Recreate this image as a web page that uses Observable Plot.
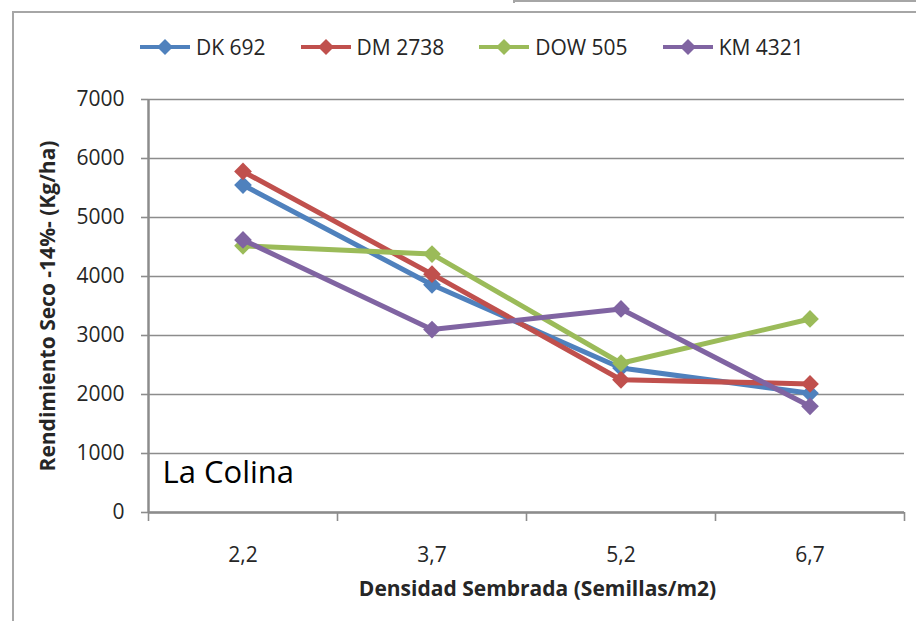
<!DOCTYPE html>
<html>
<head>
<meta charset="utf-8">
<script src="https://cdn.jsdelivr.net/npm/d3@7"></script>
<script src="https://cdn.jsdelivr.net/npm/@observablehq/plot@0.6"></script>
<style>
  body { margin: 0; background: #fff; font-family: "Open Sans", sans-serif; }
  #wrap { position: relative; width: 916px; height: 621px; overflow: hidden; }
  #chart { position: absolute; left: 0; top: 0; }
  .edge { position: absolute; background: #a6a6a6; }
  #legend { position: absolute; left: 140px; top: 33px; display: flex; gap: 35px; font-size: 21px; color: #262626; }
  #legend .item { display: flex; align-items: center; }
  #legend .item span { margin-left: 6px; }
</style>
</head>
<body>
<div id="wrap">
  <div class="edge" style="left:513px; top:0; width:403px; height:2px;"></div>
  <div class="edge" style="left:513px; top:0; width:2px; height:3px;"></div>
  <div class="edge" style="left:12px; top:11px; width:904px; height:2px;"></div>
  <div class="edge" style="left:12px; top:11px; width:2px; height:610px;"></div>
  <div id="chart"></div>
  <div id="legend"></div>
</div>
<script>
// densidad sembrada (semillas/m2)
const densities = [2.2, 3.7, 5.2, 6.7];
const densityLabels = ["2,2", "3,7", "5,2", "6,7"];
const xBoundaries = [1.45, 2.95, 4.45, 5.95, 7.45];
const yTicks = [0, 1000, 2000, 3000, 4000, 5000, 6000, 7000];

const series = ["DK 692", "DM 2738", "DOW 505", "KM 4321"];
const colors = ["#4F81BD", "#C0504D", "#9BBB59", "#8064A2"];

// rendimiento seco -14%- (kg/ha)
const dk692 = [5550, 3860, 2450, 2020];
const dm2738 = [5780, 4040, 2250, 2180];
const dow505 = [4520, 4380, 2530, 3280];
const km4321 = [4620, 3100, 3450, 1800];

const values = [dk692, dm2738, dow505, km4321];
const data = series.flatMap((s, i) => densities.map((d, j) => ({serie: s, densidad: d, rend: values[i][j]})));

const axisGray = "#8c8c8c";

let chart = Plot.plot({
  width: 916,
  height: 621,
  marginLeft: 148,
  marginRight: 12,
  marginTop: 99,
  marginBottom: 109,
  style: {fontFamily: "Open Sans", fontSize: "21px", color: "#262626", background: "transparent"},
  x: {type: "linear", domain: [xBoundaries[0], xBoundaries[xBoundaries.length - 1]]},
  y: {domain: [0, 7000]},
  color: {domain: series, range: colors},
  marks: [
    Plot.gridY(yTicks, {stroke: axisGray, strokeOpacity: 1, strokeWidth: 1.6}),
    Plot.axisY(yTicks, {tickSize: 7, tickPadding: 17, stroke: axisGray, strokeWidth: 1.6, fill: "#262626", tickFormat: d => String(d), label: null}),
    Plot.axisX(densities, {tickSize: 0, tickPadding: 35, fill: "#262626", tickFormat: d => densityLabels[densities.indexOf(d)], label: null}),
    Plot.axisX(xBoundaries, {tickSize: 9, stroke: axisGray, strokeWidth: 1.6, tickFormat: () => "", label: null}),
    Plot.ruleY([0], {stroke: axisGray, strokeWidth: 2.5}),
    Plot.ruleX([xBoundaries[0]], {stroke: axisGray, strokeWidth: 2.5}),
    ...series.flatMap(s => [
      Plot.line(data.filter(d => d.serie === s), {x: "densidad", y: "rend", stroke: "serie", strokeWidth: 5}),
      Plot.dot(data.filter(d => d.serie === s), {x: "densidad", y: "rend", fill: "serie", symbol: "diamond2", r: 8, stroke: null})
    ]),
    Plot.text(["Rendimiento Seco -14%- (Kg/ha)"], {frameAnchor: "left", dx: -100, rotate: -90, textAnchor: "middle", fontWeight: "bold", fill: "#262626"}),
    Plot.text(["Densidad Sembrada (Semillas/m2)"], {frameAnchor: "bottom", dx: 11, dy: 83, fontWeight: "bold", fill: "#262626"}),
    Plot.text(["La Colina"], {frameAnchor: "bottom-left", dx: 14, dy: -30, lineAnchor: "bottom", textAnchor: "start", fontSize: 31, fill: "#000"})
  ]
});
d3.select("#chart").append(() => chart);

// leyenda
const legend = d3.select("#legend");
series.forEach((s, i) => {
  const item = legend.append("div").attr("class", "item");
  const sw = item.append("svg").attr("width", 50).attr("height", 18);
  sw.append("line").attr("x1", 0).attr("x2", 50).attr("y1", 9).attr("y2", 9)
    .attr("stroke", colors[i]).attr("stroke-width", 4);
  sw.append("path").attr("d", "M25,1L33,9L25,17L17,9Z").attr("fill", colors[i]);
  item.append("span").text(s);
});
</script>
</body>
</html>
